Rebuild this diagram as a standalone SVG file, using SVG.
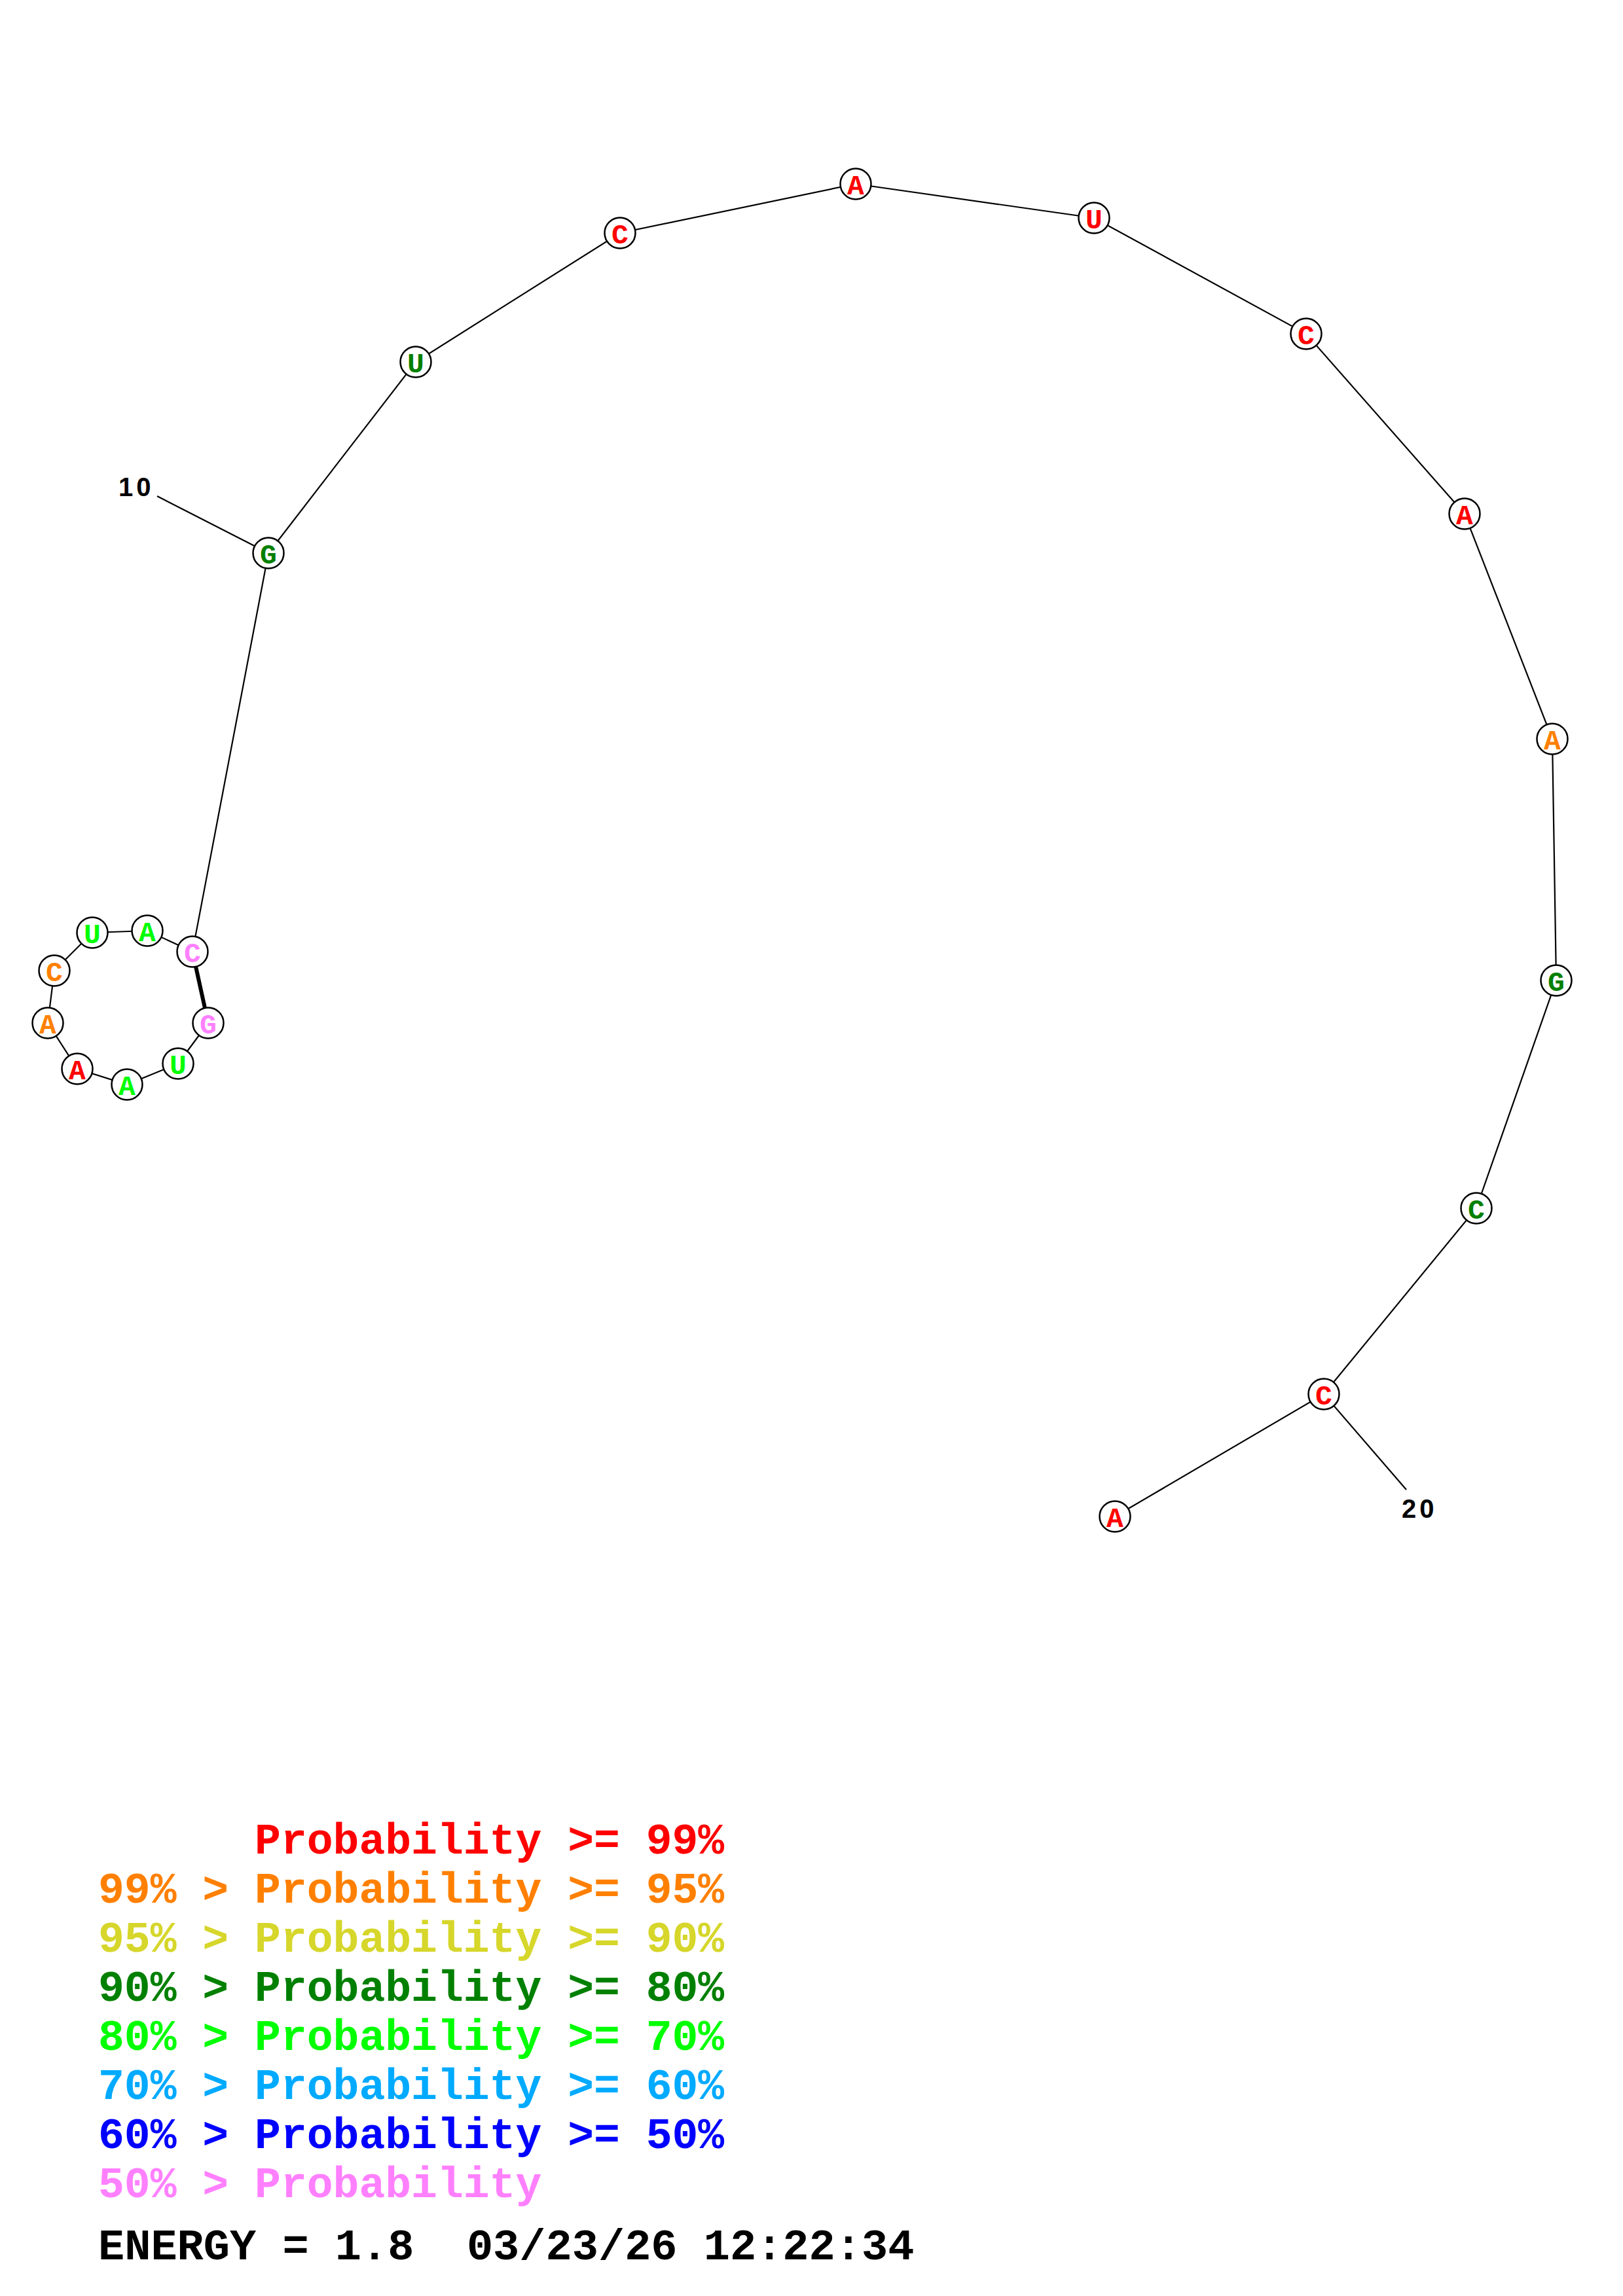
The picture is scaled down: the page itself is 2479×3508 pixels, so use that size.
<svg xmlns="http://www.w3.org/2000/svg" width="2479" height="3508" viewBox="0 0 2479 3508">
<style>
.bb{stroke:#000;stroke-width:2.2;fill:none}
.pair{stroke:#000;stroke-width:6;fill:none}
.nc{fill:#fff;stroke:#000;stroke-width:2.5}
.nt{font-family:"Liberation Mono",monospace;font-weight:bold;font-size:43px;text-anchor:middle}
.lbl{font-family:"Liberation Sans",Arial,sans-serif;font-weight:bold;font-size:40px;letter-spacing:5px;fill:#000}
.lg{font-family:"Liberation Mono",monospace;font-weight:bold;font-size:66.4px;white-space:pre}
.r{fill:#FF0000}.o{fill:#FF8000}.y{fill:#D6D62B}.dg{fill:#008000}.g{fill:#00FF00}.sb{fill:#00AAFF}.b{fill:#0000FF}.p{fill:#FF80FF}.k{fill:#000}
</style>
<rect width="2479" height="3508" fill="#fff"/>
<g id="connectors">
<polyline class="bb" points="318,1563 272,1625 194,1657 118,1633 73,1563 83,1483 141,1425 225,1422 294,1454 410,845 635,553 947,356 1307,281 1671,333 1995,510 2237,785 2371,1129 2377,1498 2255,1846 2022,2130 1703,2317"/>
<line class="pair" x1="294" y1="1454" x2="318" y2="1563"/>
<line class="bb" x1="410" y1="845" x2="240" y2="758"/>
<line class="bb" x1="2022" y1="2130" x2="2148" y2="2276"/>
</g>
<g id="n1"><circle class="nc" cx="318" cy="1563" r="23.5"/><text class="nt p" x="318" y="1579">G</text></g>
<g id="n2"><circle class="nc" cx="272" cy="1625" r="23.5"/><text class="nt g" x="272" y="1641">U</text></g>
<g id="n3"><circle class="nc" cx="194" cy="1657" r="23.5"/><text class="nt g" x="194" y="1673">A</text></g>
<g id="n4"><circle class="nc" cx="118" cy="1633" r="23.5"/><text class="nt r" x="118" y="1649">A</text></g>
<g id="n5"><circle class="nc" cx="73" cy="1563" r="23.5"/><text class="nt o" x="73" y="1579">A</text></g>
<g id="n6"><circle class="nc" cx="83" cy="1483" r="23.5"/><text class="nt o" x="83" y="1499">C</text></g>
<g id="n7"><circle class="nc" cx="141" cy="1425" r="23.5"/><text class="nt g" x="141" y="1441">U</text></g>
<g id="n8"><circle class="nc" cx="225" cy="1422" r="23.5"/><text class="nt g" x="225" y="1438">A</text></g>
<g id="n9"><circle class="nc" cx="294" cy="1454" r="23.5"/><text class="nt p" x="294" y="1470">C</text></g>
<g id="n10"><circle class="nc" cx="410" cy="845" r="23.5"/><text class="nt dg" x="410" y="861">G</text></g>
<g id="n11"><circle class="nc" cx="635" cy="553" r="23.5"/><text class="nt dg" x="635" y="569">U</text></g>
<g id="n12"><circle class="nc" cx="947" cy="356" r="23.5"/><text class="nt r" x="947" y="372">C</text></g>
<g id="n13"><circle class="nc" cx="1307" cy="281" r="23.5"/><text class="nt r" x="1307" y="297">A</text></g>
<g id="n14"><circle class="nc" cx="1671" cy="333" r="23.5"/><text class="nt r" x="1671" y="349">U</text></g>
<g id="n15"><circle class="nc" cx="1995" cy="510" r="23.5"/><text class="nt r" x="1995" y="526">C</text></g>
<g id="n16"><circle class="nc" cx="2237" cy="785" r="23.5"/><text class="nt r" x="2237" y="801">A</text></g>
<g id="n17"><circle class="nc" cx="2371" cy="1129" r="23.5"/><text class="nt o" x="2371" y="1145">A</text></g>
<g id="n18"><circle class="nc" cx="2377" cy="1498" r="23.5"/><text class="nt dg" x="2377" y="1514">G</text></g>
<g id="n19"><circle class="nc" cx="2255" cy="1846" r="23.5"/><text class="nt dg" x="2255" y="1862">C</text></g>
<g id="n20"><circle class="nc" cx="2022" cy="2130" r="23.5"/><text class="nt r" x="2022" y="2146">C</text></g>
<g id="n21"><circle class="nc" cx="1703" cy="2317" r="23.5"/><text class="nt r" x="1703" y="2333">A</text></g>
<g id="labels">
<text class="lbl" x="181" y="758">10</text>
<text class="lbl" x="2141" y="2319">20</text>
</g>
<g id="legend">
<text class="lg r" x="150" y="2832">      Probability &gt;= 99%</text>
<text class="lg o" x="150" y="2907">99% &gt; Probability &gt;= 95%</text>
<text class="lg y" x="150" y="2982">95% &gt; Probability &gt;= 90%</text>
<text class="lg dg" x="150" y="3057">90% &gt; Probability &gt;= 80%</text>
<text class="lg g" x="150" y="3132">80% &gt; Probability &gt;= 70%</text>
<text class="lg sb" x="150" y="3207">70% &gt; Probability &gt;= 60%</text>
<text class="lg b" x="150" y="3282">60% &gt; Probability &gt;= 50%</text>
<text class="lg p" x="150" y="3357">50% &gt; Probability</text>
<text class="lg k" x="150" y="3452" style="font-size:67px">ENERGY = 1.8  03/23/26 12:22:34</text>
</g>
</svg>
